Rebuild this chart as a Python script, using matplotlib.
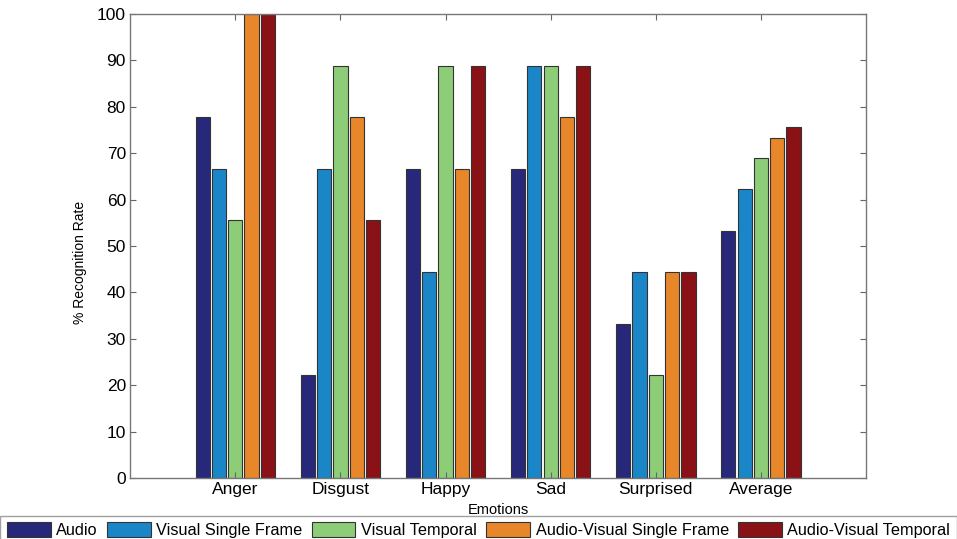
import matplotlib.pyplot as plt
import numpy as np

plt.rcParams['font.family'] = ['Liberation Sans', 'DejaVu Sans']

emotions = ['Anger', 'Disgust', 'Happy', 'Sad', 'Surprised', 'Average']
series_names = ['Audio', 'Visual Single Frame', 'Visual Temporal',
                'Audio-Visual Single Frame', 'Audio-Visual Temporal']

audio = [77.8, 22.2, 66.7, 66.7, 33.3, 53.3]
visual_single = [66.7, 66.7, 44.4, 88.9, 44.4, 62.2]
visual_temporal = [55.6, 88.9, 88.9, 88.9, 22.2, 68.9]
av_single = [100, 77.8, 66.7, 77.8, 44.4, 73.3]
av_temporal = [100, 55.6, 88.9, 88.9, 44.4, 75.6]

colors = ['#27287a', '#1a86c8', '#8dcd78', '#e8862a', '#8a1216']


def plot_data():
    fig = plt.figure(figsize=(9.57, 5.39), dpi=100)
    ax = fig.add_axes([0.136, 0.113, 0.769, 0.861])

    all_series = [audio, visual_single, visual_temporal, av_single, av_temporal]
    x = np.arange(1, len(emotions) + 1)
    step = 0.155
    width = 0.135
    for i, vals in enumerate(all_series):
        ax.bar(x + (i - 2) * step, vals, width, color=colors[i],
               edgecolor='#333333', linewidth=0.8, label=series_names[i])

    ax.set_xlim(0, 7)
    ax.set_ylim(0, 100)
    ax.set_xticks(x)
    ax.set_xticklabels(emotions, fontsize=12.5)
    ax.set_yticks(range(0, 101, 10))
    ax.tick_params(axis='y', labelsize=12.5)
    ax.tick_params(direction='in', top=True, right=True, length=4,
                   color='#666666', pad=3)
    for s in ax.spines.values():
        s.set_color('#777777')
        s.set_linewidth(1.0)

    ax.set_ylabel('% Recognition Rate', fontsize=10, labelpad=14)
    ax.yaxis.set_label_coords(-0.058, 0.465)
    ax.set_xlabel('Emotions', fontsize=10.5, labelpad=4)

    leg = fig.legend(loc='lower center', bbox_to_anchor=(0.5, -0.025), ncol=5,
                     fontsize=11.7, handlelength=2.7, handleheight=1.0,
                     columnspacing=0.55, handletextpad=0.35, borderpad=0.4,
                     fancybox=False, edgecolor='#888888')
    leg.get_frame().set_linewidth(1.0)

    fig.savefig('out.png', dpi=100)


if __name__ == "__main__":
    plot_data()
